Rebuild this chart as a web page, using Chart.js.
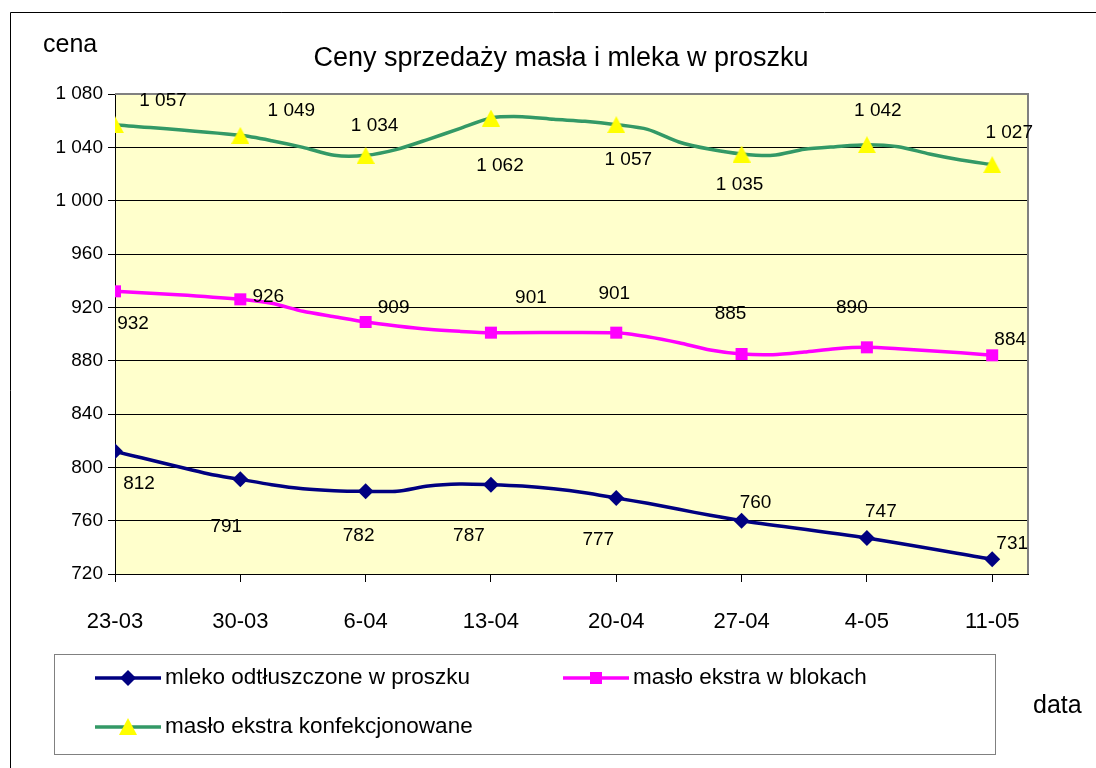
<!DOCTYPE html>
<html><head><meta charset="utf-8">
<script src="https://cdn.jsdelivr.net/npm/chart.js@4/dist/chart.umd.min.js"></script>
<style>html,body{margin:0;padding:0;background:#fff;}#wrap{width:1096px;height:768px;position:relative;}</style>
</head><body><div id="wrap"><canvas id="c" width="1096" height="768"></canvas></div>
<script>
// ---- data ----
const dateLabels = ['23-03','30-03','6-04','13-04','20-04','27-04','4-05','11-05'];
const weekDays = [0,7,14,21,28,35,42,49];
const days = [0,1.75,3.5,5.25,7,8.75,10.5,12.25,14,15.75,17.5,19.25,21,22.75,24.5,26.25,28,29.75,31.5,33.25,35,36.75,38.5,40.25,42,43.75,45.5,47.25,49];
const mleko = [812,null,null,795,791,787,784,782.5,782,782,786,787.5,787,786,784,781,777,773,768.5,764,760,null,null,null,747,null,null,null,731];
const masloBloki = [932,null,929.5,null,926,923,917,913,909,906,903.5,902,901,null,null,null,901,898,893.5,888,885,884.5,886.5,889,890,889,887.5,886,884];
const masloKonf = [1057,null,null,null,1049,1045,1040,1034,1034,1038.5,1046,1054,1062,1063,1061,1059.5,1057,1053.5,1044,1038.5,1035,1034,1038.5,1040.5,1042,1040.5,1035,1030.5,1027];
const yTicks = [720,760,800,840,880,920,960,1000,1040,1080];
const seriesNames = ['mleko odtłuszczone w proszku','masło ekstra w blokach','masło ekstra konfekcjonowane'];
const chartTitle = 'Ceny sprzedaży masła i mleka w proszku';
const yTitle = 'cena';
const xTitle = 'data';

// ---- label placement (offset of label centre from marker) ----
const offMleko = [[24,32],[-14,47],[-7,44],[-22,51],[-18,42],[14,-18],[14,-26],[20,-16]];
const offBloki = [[18,32],[28,-3],[28,-14],[40,-35],[-2,-39],[-11,-40],[-15,-40],[18,-16]];
const offKonf  = [[48,-24],[51,-25],[9,-30],[9,48],[12,35],[-2,31],[11,-34],[17,-32]];

const NAVY='#000080', PINK='#FF00FF', GREEN='#339966', YELLOW='#FFFF00', PLOTBG='#FFFFCC';
const FONT='"Liberation Sans", Arial, sans-serif';

function toPoints(vals){ return days.map((d,i)=>({x:d,y:vals[i]})).filter(p=>p.y!==null); }
function fmt(v){ v=Math.round(v); return v>=1000 ? Math.floor(v/1000)+' '+String(v%1000).padStart(3,'0') : String(v); }

// triangle marker
const tri = document.createElement('canvas'); tri.width=18; tri.height=17;
{ const t=tri.getContext('2d'); t.fillStyle=YELLOW; t.beginPath(); t.moveTo(9,0); t.lineTo(18,17); t.lineTo(0,17); t.closePath(); t.fill(); }

const weekly = ctx => weekDays.includes(ctx.raw && ctx.raw.x);

const decor = {
  id:'decor',
  beforeDraw(chart){
    const {ctx, chartArea:a} = chart;
    ctx.save();
    ctx.fillStyle='#fff'; ctx.fillRect(0,0,chart.width,chart.height);
    ctx.fillStyle=PLOTBG; ctx.fillRect(a.left,a.top,a.right-a.left,a.bottom-a.top);
    ctx.strokeStyle='#000'; ctx.lineWidth=1;
    ctx.beginPath(); ctx.moveTo(10.5,768); ctx.lineTo(10.5,12.5); ctx.lineTo(1096,12.5); ctx.stroke();
    ctx.restore();
  },
  beforeDatasetsDraw(chart){
    const {ctx, chartArea:a} = chart;
    ctx.save(); ctx.strokeStyle='#808080'; ctx.lineWidth=2;
    ctx.beginPath(); ctx.moveTo(a.left,a.top); ctx.lineTo(a.right,a.top); ctx.lineTo(a.right,a.bottom); ctx.stroke();
    ctx.restore();
  },
  afterDraw(chart){
    const {ctx} = chart; const xs=chart.scales.x, ys=chart.scales.y;
    ctx.save();
    ctx.fillStyle='#000';
    ctx.font='27px '+FONT; ctx.textAlign='center'; ctx.textBaseline='alphabetic';
    ctx.fillText(chartTitle, 561, 66);
    ctx.font='25px '+FONT; ctx.textAlign='left';
    ctx.fillText(yTitle, 43, 52);
    ctx.fillText(xTitle, 1033, 713);
    ctx.font='19px '+FONT; ctx.textAlign='center'; ctx.textBaseline='middle';
    [[mleko,offMleko],[masloBloki,offBloki],[masloKonf,offKonf]].forEach(([vals,offs])=>{
      weekDays.forEach((d,i)=>{
        const v = vals[days.indexOf(d)];
        const px = xs.getPixelForValue(d), py = ys.getPixelForValue(v);
        ctx.fillText(fmt(v), px+offs[i][0], py+offs[i][1]);
      });
    });
    ctx.strokeStyle='#808080'; ctx.lineWidth=1;
    ctx.strokeRect(54.5,654.5,941,100);
    const entries=[
      {x:95,y:678,color:NAVY,mark:'diamond',text:seriesNames[0]},
      {x:563,y:678,color:PINK,mark:'square',text:seriesNames[1]},
      {x:95,y:727,color:GREEN,mark:'tri',text:seriesNames[2]}
    ];
    entries.forEach(e=>{
      ctx.strokeStyle=e.color; ctx.lineWidth=3.5;
      ctx.beginPath(); ctx.moveTo(e.x,e.y); ctx.lineTo(e.x+66,e.y); ctx.stroke();
      const cx=e.x+33;
      if(e.mark==='diamond'){ ctx.fillStyle=NAVY; ctx.beginPath(); ctx.moveTo(cx-8,e.y); ctx.lineTo(cx,e.y-8); ctx.lineTo(cx+8,e.y); ctx.lineTo(cx,e.y+8); ctx.closePath(); ctx.fill(); }
      else if(e.mark==='square'){ ctx.fillStyle=PINK; ctx.fillRect(cx-6,e.y-6,12,12); }
      else { ctx.drawImage(tri,cx-9,e.y-9); }
      ctx.fillStyle='#000'; ctx.font='22.5px '+FONT; ctx.textAlign='left'; ctx.textBaseline='middle';
      ctx.fillText(e.text, e.x+70, e.y);
    });
    ctx.restore();
  }
};

new Chart(document.getElementById('c'), {
  type:'line',
  data:{ datasets:[
    {label:seriesNames[0], data:toPoints(mleko), borderColor:NAVY, backgroundColor:NAVY, borderWidth:3.5,
     pointStyle:'rectRot', pointRadius:c=>weekly(c)?8:0, pointBorderWidth:0, tension:0.25},
    {label:seriesNames[1], data:toPoints(masloBloki), borderColor:PINK, backgroundColor:PINK, borderWidth:3.5,
     pointStyle:'rect', pointRadius:c=>weekly(c)?8.5:0, pointBorderWidth:0, tension:0.25},
    {label:seriesNames[2], data:toPoints(masloKonf), borderColor:GREEN, backgroundColor:YELLOW, borderWidth:3.5,
     pointStyle:tri, pointRadius:c=>weekly(c)?9:0, pointBorderWidth:0, tension:0.25}
  ]},
  options:{
    responsive:false, animation:false, devicePixelRatio:1,
    layout:{padding:{top:94,right:68,left:0,bottom:0}},
    plugins:{legend:{display:false}, title:{display:false}, tooltip:{enabled:false}},
    scales:{
      x:{type:'linear', min:0, max:51,
         afterBuildTicks:s=>{ s.ticks = weekDays.map(v=>({value:v})); },
         afterFit:s=>{ s.height=194; },
         grid:{drawOnChartArea:false, drawTicks:true, tickLength:8, color:'#000'},
         border:{color:'#000', width:1},
         ticks:{color:'#000', font:{family:FONT,size:22}, padding:27, maxRotation:0, autoSkip:false,
                callback:v=>dateLabels[weekDays.indexOf(v)]}},
      y:{min:720, max:1080,
         afterBuildTicks:s=>{ s.ticks = yTicks.map(v=>({value:v})); },
         afterFit:s=>{ s.width=115; },
         grid:{color:'#000', tickLength:7, drawTicks:true},
         border:{color:'#000', width:1},
         ticks:{color:'#000', font:{family:FONT,size:19}, padding:5, callback:v=>fmt(v)}}
    }
  },
  plugins:[decor]
});
</script></body></html>
